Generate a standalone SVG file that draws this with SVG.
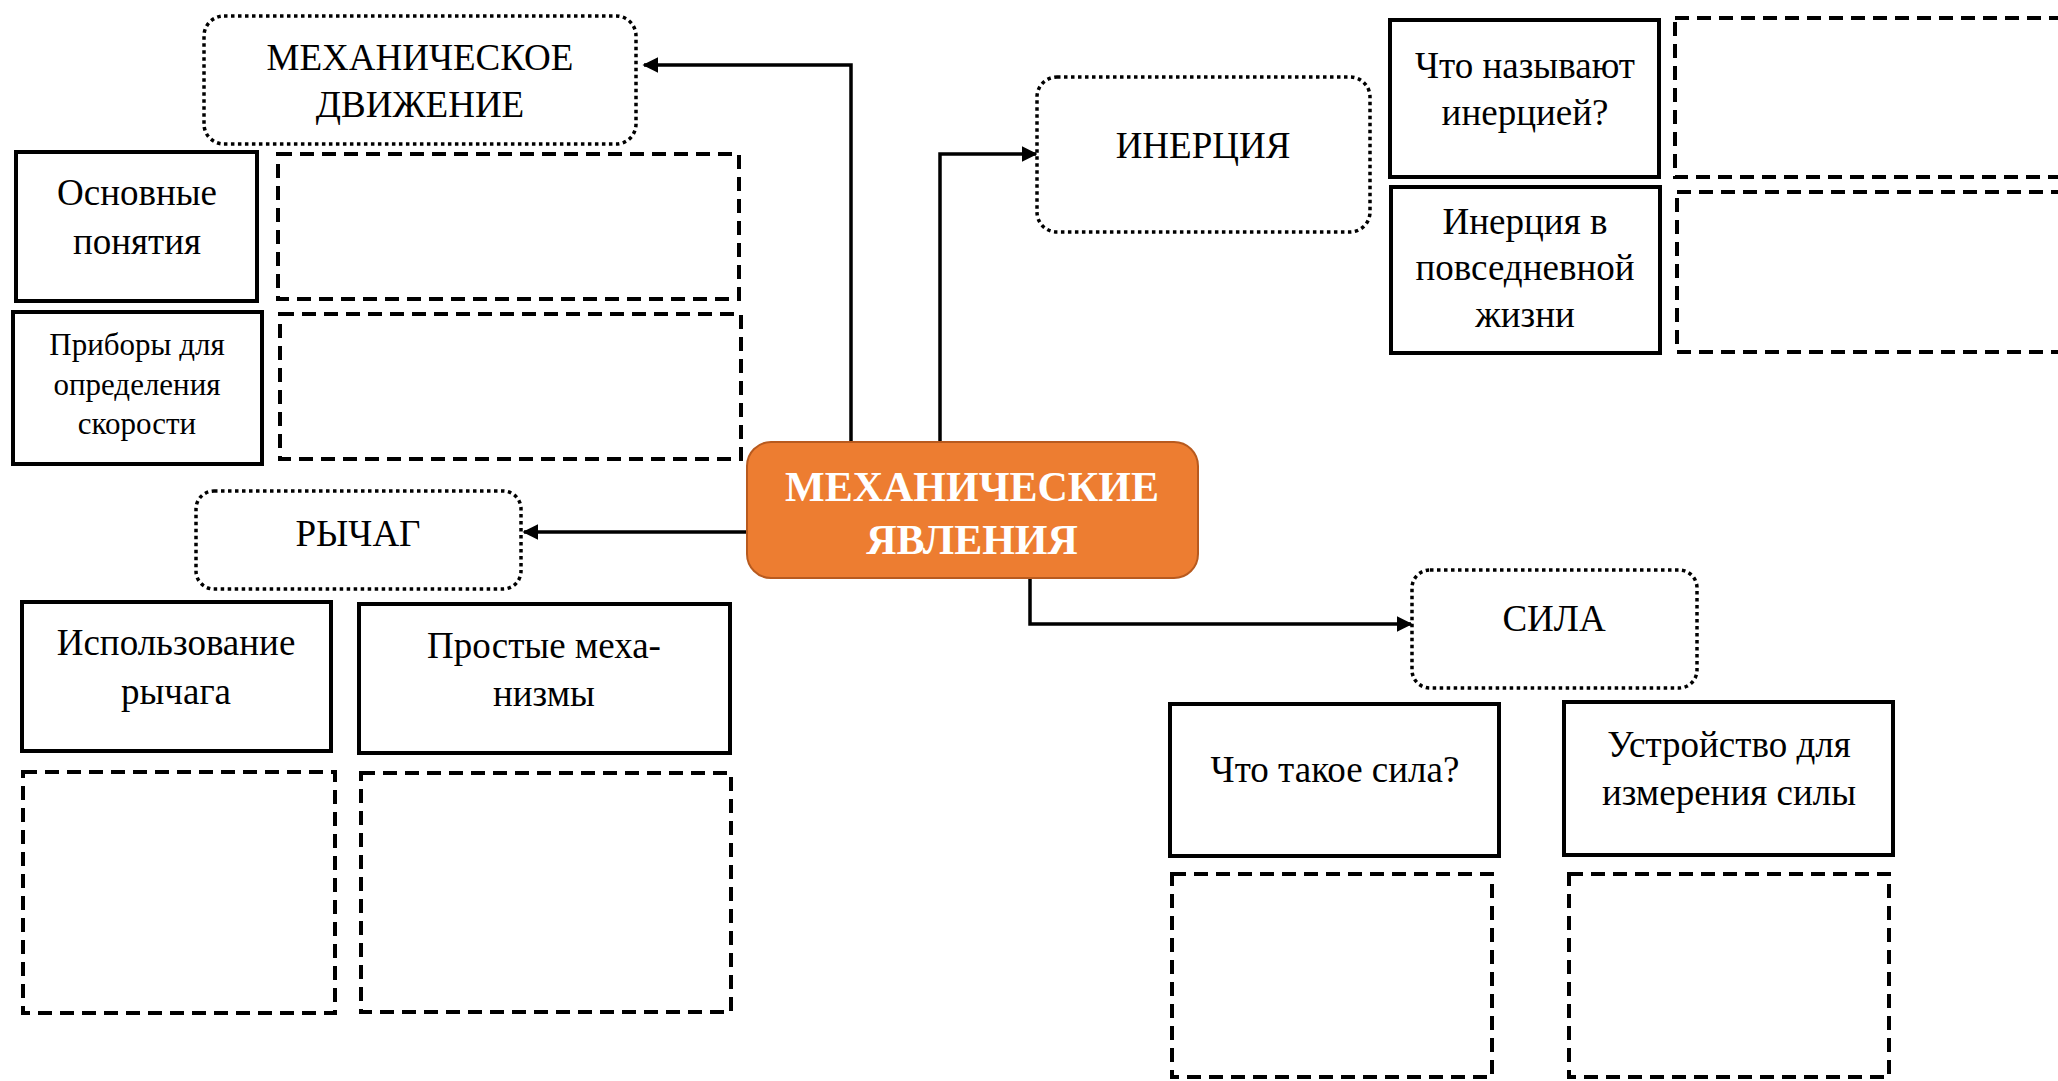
<svg xmlns="http://www.w3.org/2000/svg" width="2058" height="1081" viewBox="0 0 2058 1081">
<style>
  .t { font-family: "Liberation Serif", "Times New Roman", serif; font-size: 37px; fill: #000; text-anchor: middle; }
  .ts { font-size: 31px; }
  .tc { font-family: "Liberation Serif", "Times New Roman", serif; font-size: 42px; font-weight: bold; fill: #fff; text-anchor: middle; }
  .solid { fill: #fff; stroke: #000; stroke-width: 4; }
  .dash { fill: none; stroke: #000; stroke-width: 4; stroke-dasharray: 14 8; }
  .dot { fill: #fff; stroke: #000; stroke-width: 3.5; stroke-dasharray: 3.5 3.5; }
  .conn { fill: none; stroke: #000; stroke-width: 3.5; }
</style>
<defs>
  <marker id="arr" viewBox="0 0 10 10" refX="9" refY="5" markerWidth="4.5" markerHeight="4.5" orient="auto" markerUnits="strokeWidth">
    <path d="M0,0 L10,5 L0,10 z" fill="#000"/>
  </marker>
</defs>
<rect width="2058" height="1081" fill="#fff"/>

<g id="connectors">
  <path class="conn" d="M851,442 V65 H644" marker-end="url(#arr)"/>
  <path class="conn" d="M940,442 V154 H1036" marker-end="url(#arr)"/>
  <path class="conn" d="M747,532 H524" marker-end="url(#arr)"/>
  <path class="conn" d="M1030,577 V624 H1411" marker-end="url(#arr)"/>
</g>

<g id="center">
  <rect x="747" y="442" width="451" height="136" rx="24" fill="#ED7D31" stroke="#B85A1E" stroke-width="2"/>
  <text class="tc" x="972" y="501">МЕХАНИЧЕСКИЕ</text>
  <text class="tc" x="972" y="554">ЯВЛЕНИЯ</text>
</g>

<g id="mech-motion">
  <rect class="dot" x="204" y="16" width="432" height="128" rx="20"/>
  <text class="t" x="420" y="70">МЕХАНИЧЕСКОЕ</text>
  <text class="t" x="420" y="117">ДВИЖЕНИЕ</text>
</g>
<g id="basic-concepts">
  <rect class="solid" x="16" y="152" width="241" height="149"/>
  <text class="t" x="137" y="205">Основные</text>
  <text class="t" x="137" y="254">понятия</text>
</g>
<g id="blank-1"><rect class="dash" x="278" y="154" width="461" height="145"/></g>
<g id="speed-devices">
  <rect class="solid" x="13" y="312" width="249" height="152"/>
  <text class="t ts" x="137" y="355">Приборы для</text>
  <text class="t ts" x="137" y="395">определения</text>
  <text class="t ts" x="137" y="434">скорости</text>
</g>
<g id="blank-2"><rect class="dash" x="280" y="314" width="461" height="145"/></g>

<g id="inertia">
  <rect class="dot" x="1037" y="77" width="333" height="155" rx="20"/>
  <text class="t" x="1203" y="158">ИНЕРЦИЯ</text>
</g>
<g id="what-inertia">
  <rect class="solid" x="1390" y="20" width="269" height="157"/>
  <text class="t" x="1525" y="78">Что называют</text>
  <text class="t" x="1525" y="125">инерцией?</text>
</g>
<g id="blank-3"><rect class="dash" x="1675" y="18" width="400" height="159"/></g>
<g id="inertia-life">
  <rect class="solid" x="1391" y="187" width="269" height="166"/>
  <text class="t" x="1525" y="234">Инерция в</text>
  <text class="t" x="1525" y="280">повседневной</text>
  <text class="t" x="1525" y="327">жизни</text>
</g>
<g id="blank-4"><rect class="dash" x="1677" y="192" width="400" height="160"/></g>

<g id="lever">
  <rect class="dot" x="196" y="491" width="325" height="98" rx="18"/>
  <text class="t" x="358" y="546">РЫЧАГ</text>
</g>
<g id="lever-use">
  <rect class="solid" x="22" y="602" width="309" height="149"/>
  <text class="t" x="176" y="655">Использование</text>
  <text class="t" x="176" y="704">рычага</text>
</g>
<g id="simple-machines">
  <rect class="solid" x="359" y="604" width="371" height="149"/>
  <text class="t" x="544" y="658">Простые меха-</text>
  <text class="t" x="544" y="706">низмы</text>
</g>
<g id="blank-5"><rect class="dash" x="23" y="772" width="312" height="241"/></g>
<g id="blank-6"><rect class="dash" x="361" y="773" width="370" height="239"/></g>

<g id="force">
  <rect class="dot" x="1412" y="570" width="285" height="118" rx="18"/>
  <text class="t" x="1554" y="631">СИЛА</text>
</g>
<g id="what-force">
  <rect class="solid" x="1170" y="704" width="329" height="152"/>
  <text class="t" x="1335" y="782">Что такое сила?</text>
</g>
<g id="force-device">
  <rect class="solid" x="1564" y="702" width="329" height="153"/>
  <text class="t" x="1729" y="757">Устройство для</text>
  <text class="t" x="1729" y="805">измерения силы</text>
</g>
<g id="blank-7"><rect class="dash" x="1172" y="874" width="320" height="203"/></g>
<g id="blank-8"><rect class="dash" x="1569" y="874" width="320" height="203"/></g>
</svg>
